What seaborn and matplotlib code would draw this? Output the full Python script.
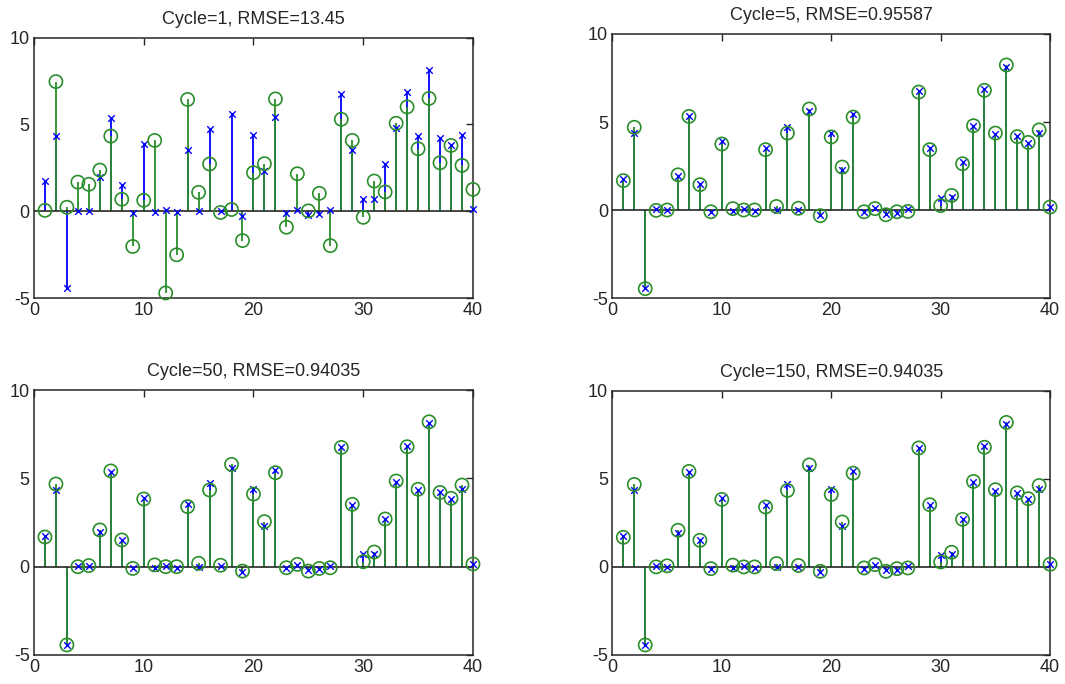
import numpy as np
import pandas as pd
import matplotlib
matplotlib.use("Agg")
import matplotlib.pyplot as plt
import seaborn as sns

# Sample index 1..40
n = np.arange(1, 41)

# Original sparse signal (blue x stems)
original = [1.74, 4.35, -4.45, 0.03, 0.02, 1.95, 5.36, 1.50, -0.10, 3.90,
            -0.05, 0.05, -0.05, 3.52, 0.00, 4.73, 0.02, 5.60, -0.30, 4.40,
            2.30, 5.45, -0.10, 0.10, -0.20, -0.15, 0.05, 6.76, 3.50, 0.70,
            0.72, 2.72, 4.80, 6.85, 4.33, 8.12, 4.20, 3.83, 4.40, 0.15]

# Reconstructions after a number of iterations (green o stems)
recon_c1 = [0.05, 7.47, 0.23, 1.68, 1.55, 2.37, 4.33, 0.69, -2.03, 0.63,
            4.08, -4.71, -2.51, 6.44, 1.09, 2.72, -0.07, 0.10, -1.69, 2.22,
            2.74, 6.47, -0.92, 2.16, 0.02, 1.03, -1.98, 5.30, 4.08, -0.35,
            1.74, 1.11, 5.07, 6.01, 3.60, 6.50, 2.79, 3.79, 2.64, 1.26]

recon_c5 = [1.67, 4.70, -4.47, -0.02, 0.00, 2.00, 5.32, 1.44, -0.10, 3.75,
            0.08, 0.00, 0.00, 3.43, 0.20, 4.37, 0.10, 5.74, -0.32, 4.15,
            2.44, 5.28, -0.10, 0.08, -0.27, -0.10, -0.08, 6.70, 3.43, 0.25,
            0.83, 2.63, 4.79, 6.80, 4.37, 8.24, 4.17, 3.84, 4.55, 0.17]

recon_c50 = [1.68, 4.68, -4.43, 0.00, 0.06, 2.08, 5.42, 1.51, -0.10, 3.83,
             0.10, 0.00, 0.00, 3.40, 0.19, 4.34, 0.08, 5.79, -0.25, 4.11,
             2.55, 5.32, -0.06, 0.13, -0.25, -0.10, -0.06, 6.75, 3.53, 0.28,
             0.83, 2.70, 4.85, 6.79, 4.38, 8.20, 4.20, 3.87, 4.62, 0.15]

recon_c150 = list(recon_c50)

titles = ["Cycle=1, RMSE=13.45", "Cycle=5, RMSE=0.95587",
          "Cycle=50, RMSE=0.94035", "Cycle=150, RMSE=0.94035"]
recons = [recon_c1, recon_c5, recon_c50, recon_c150]

sns.set_theme(style="white")
plt.rcParams["font.family"] = ["Liberation Sans", "DejaVu Sans"]
plt.rcParams["axes.unicode_minus"] = False

BLUE = "#0000ff"
GREEN = "#2a8f2a"
INK = "#262626"

fig = plt.figure(figsize=(10.65, 6.84), dpi=100, facecolor="white")
positions = [
    [0.0319, 0.5643, 0.4122, 0.3806],
    [0.5750, 0.5643, 0.4110, 0.3860],
    [0.0319, 0.0424, 0.4122, 0.3874],
    [0.5750, 0.0424, 0.4110, 0.3864],
]

for pos, title, rec in zip(positions, titles, recons):
    ax = fig.add_axes(pos)
    df = pd.DataFrame({"n": n, "orig": original, "rec": rec})

    # stems: original first, reconstruction drawn on top
    ax.vlines(df["n"], 0, df["orig"], color=BLUE, lw=1.3, zorder=2)
    ax.vlines(df["n"], 0, df["rec"], color=GREEN, lw=1.3, zorder=3)
    ax.axhline(0, color=INK, lw=1.2, zorder=4)

    sns.scatterplot(data=df, x="n", y="orig", ax=ax, marker="x", s=22,
                    color=BLUE, linewidth=1.0, zorder=5, clip_on=False,
                    legend=False)
    sns.scatterplot(data=df, x="n", y="rec", ax=ax, marker="o", s=90,
                    facecolor="none", edgecolor=GREEN, linewidth=1.2,
                    zorder=6, clip_on=False, legend=False)

    ax.set_xlim(0, 40)
    ax.set_ylim(-5, 10)
    ax.set_xticks([0, 10, 20, 30, 40])
    ax.set_yticks([-5, 0, 5, 10])
    ax.set_xlabel("")
    ax.set_ylabel("")
    ax.tick_params(direction="in", length=5, width=1, color=INK,
                   top=True, right=True, labelsize=13, labelcolor=INK,
                   pad=3)
    for sp in ax.spines.values():
        sp.set_color(INK)
        sp.set_linewidth(1.1)
        sp.set_visible(True)
    ax.set_title(title, fontsize=13, color=INK, pad=10)

fig.savefig("out.png", dpi=100, facecolor="white")
